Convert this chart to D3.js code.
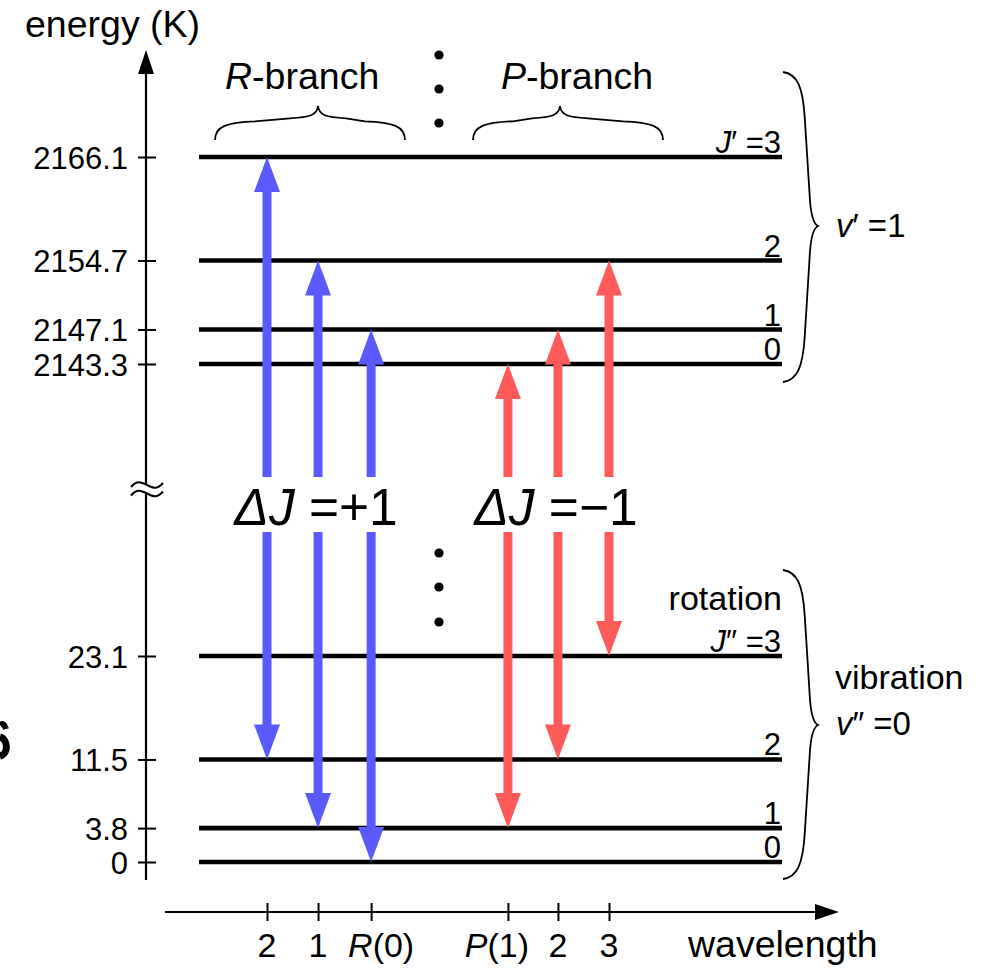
<!DOCTYPE html>
<html><head><meta charset="utf-8">
<script src="https://cdn.jsdelivr.net/npm/d3@7/dist/d3.min.js"></script>
<style>
body{margin:0;background:#fff}
svg{display:block}
text{font-family:"Liberation Sans",Arial,Helvetica,sans-serif;fill:#000}
</style>
</head><body>
<svg id="c" width="990" height="968"></svg>
<script>
// ---------------- data ----------------
const upperJ = [0, 1, 2, 3];
const upperEnergy = [2143.3, 2147.1, 2154.7, 2166.1];   // v'=1 levels (K)
const lowerJ = [0, 1, 2, 3];
const lowerEnergy = [0, 3.8, 11.5, 23.1];               // v''=0 levels (K)
const upperTickLabels = ["2143.3", "2147.1", "2154.7", "2166.1"];
const lowerTickLabels = ["0", "3.8", "11.5", "23.1"];
const transitionBranch = ["R", "R", "R", "P", "P", "P"];
const transitionLowerJ = [2, 1, 0, 1, 2, 3];
const transitionUpperJ = [3, 2, 1, 0, 1, 2];
const transitionPos = [0, 1, 2.04, 4.72, 5.7, 6.7];     // relative wavelength position
const transitionLabels = ["2", "1", "R(0)", "P(1)", "2", "3"];
const branchColor = {R: "#5a5aff", P: "#ff5a5a"};

// ---------------- scales ----------------
const svg = d3.select("#c");
const x = d3.scaleLinear().domain([0, 6.7]).range([267, 609]);
const yU = d3.scaleLinear().domain([2143.3, 2166.1]).range([364, 157]);
const yL = d3.scaleLinear().domain([0, 23.1]).range([862, 656]);

const axisX = 146, lineX0 = 199, lineX1 = 782;

// fragment of a neighbouring glyph at the left edge (drawn as shape)
svg.append("path").attr("d", "M0,725 Q4,722 6,729").attr("fill", "none")
  .attr("stroke", "#000").attr("stroke-width", 6);
svg.append("path").attr("d", "M0,737 C8,739 9,754 0,756").attr("fill", "none")
  .attr("stroke", "#000").attr("stroke-width", 7);

// ---------------- y axis ----------------
svg.append("line").attr("x1", axisX).attr("x2", axisX).attr("y1", 68).attr("y2", 880)
  .attr("stroke", "#000").attr("stroke-width", 2.2);
svg.append("path").attr("d", `M${axisX},50 L${axisX-8},74 L${axisX+8},74 Z`).attr("fill", "#000");

function styleYAxis(g, labels) {
  g.select(".domain").remove();
  g.selectAll(".tick line").attr("x1", -8).attr("x2", 10).attr("stroke", "#000").attr("stroke-width", 2);
  g.selectAll(".tick text").attr("x", -18).attr("dy", "0.36em")
    .style("font-size", "31px").style("font-family", '"Liberation Sans",Arial,sans-serif')
    .text((d, i) => labels[i]);
}
const gU = svg.append("g").attr("transform", `translate(${axisX},0)`)
  .call(d3.axisLeft(yU).tickValues(upperEnergy));
styleYAxis(gU, upperTickLabels);
const gL = svg.append("g").attr("transform", `translate(${axisX},0)`)
  .call(d3.axisLeft(yL).tickValues(lowerEnergy));
styleYAxis(gL, lowerTickLabels);

// axis break
svg.append("rect").attr("x", 130).attr("y", 485).attr("width", 34).attr("height", 9).attr("fill", "#fff");
[485, 493.5].forEach(yc => {
  svg.append("path")
    .attr("d", `M131,${yc+2} C137,${yc-5} 141,${yc-3} 147,${yc} C153,${yc+3} 157,${yc+5} 163,${yc-2}`)
    .attr("fill", "none").attr("stroke", "#000").attr("stroke-width", 2);
});

svg.append("text").attr("x", 25).attr("y", 37).style("font-size", "37.5px").text("energy (K)");

// ---------------- x axis ----------------
svg.append("line").attr("x1", 165).attr("x2", 822).attr("y1", 912).attr("y2", 912)
  .attr("stroke", "#000").attr("stroke-width", 2.2);
svg.append("path").attr("d", "M839,912 L815,904 L815,920 Z").attr("fill", "#000");
const gX = svg.append("g").attr("transform", "translate(0,912)")
  .call(d3.axisBottom(x).tickValues(transitionPos).tickFormat(""));
gX.select(".domain").remove();
gX.selectAll(".tick line").attr("y1", -9).attr("y2", 9).attr("stroke", "#000").attr("stroke-width", 2);
gX.selectAll(".tick text").remove();

transitionPos.forEach((p, i) => {
  const lab = transitionLabels[i];
  const t = svg.append("text").attr("y", 957).style("font-size", "34px").attr("text-anchor", "middle");
  const m = lab.match(/^([RP])(\(.*\))$/);
  if (m) {
    t.attr("x", x(p) + (m[1] === "R" ? 10 : -11));
    t.append("tspan").style("font-style", "italic").text(m[1]);
    t.append("tspan").text(m[2]);
  } else {
    t.attr("x", x(p)).text(lab);
  }
});
svg.append("text").attr("x", 688).attr("y", 957).style("font-size", "37.5px").text("wavelength");

// ---------------- energy levels ----------------
const levels = upperJ.map((j, i) => ({j, y: yU(upperEnergy[i]), upper: true}))
  .concat(lowerJ.map((j, i) => ({j, y: yL(lowerEnergy[i]), upper: false})));
svg.selectAll("line.level").data(levels).join("line").attr("class", "level")
  .attr("x1", lineX0).attr("x2", lineX1).attr("y1", d => d.y).attr("y2", d => d.y)
  .attr("stroke", "#000").attr("stroke-width", 4.6);

levels.forEach(d => {
  const t = svg.append("text").attr("x", lineX1 - 1).attr("y", d.y - 4)
    .attr("text-anchor", "end").style("font-size", "31px");
  if (d.j === 3) {
    t.append("tspan").style("font-style", "italic").text("J");
    t.append("tspan").text(d.upper ? "\u2032 =3" : "\u2033 =3");
  } else {
    t.text(String(d.j));
  }
});
svg.append("text").attr("x", lineX1).attr("y", 610).attr("text-anchor", "end")
  .style("font-size", "34px").text("rotation");

// ---------------- transitions ----------------
const gapTop = 477, gapBot = 532, headL = 35, headW = 13, shaftW = 9;
const trans = transitionPos.map((p, i) => ({
  x: x(p),
  yTop: yU(upperEnergy[upperJ.indexOf(transitionUpperJ[i])]),
  yBot: yL(lowerEnergy[lowerJ.indexOf(transitionLowerJ[i])]),
  color: branchColor[transitionBranch[i]]
}));
const gA = svg.append("g");
trans.forEach(t => {
  gA.append("rect").attr("x", t.x - shaftW/2).attr("y", t.yTop + headL - 2)
    .attr("width", shaftW).attr("height", gapTop - (t.yTop + headL - 2)).attr("fill", t.color);
  gA.append("rect").attr("x", t.x - shaftW/2).attr("y", gapBot)
    .attr("width", shaftW).attr("height", (t.yBot - headL + 2) - gapBot).attr("fill", t.color);
  gA.append("path").attr("d", `M${t.x},${t.yTop} L${t.x-headW},${t.yTop+headL} L${t.x+headW},${t.yTop+headL} Z`).attr("fill", t.color);
  gA.append("path").attr("d", `M${t.x},${t.yBot} L${t.x-headW},${t.yBot-headL} L${t.x+headW},${t.yBot-headL} Z`).attr("fill", t.color);
});

// ΔJ labels centred on middle arrow of each branch
[[1, "=+1"], [4, "=\u22121"]].forEach(([i, s]) => {
  const t = svg.append("text").attr("x", trans[i].x - 2).attr("y", 525)
    .attr("text-anchor", "middle").style("font-size", "51.5px");
  t.append("tspan").style("font-style", "italic").text("\u0394J");
  t.append("tspan").text(" " + s);
});

// ---------------- dots ----------------
[55, 89, 123, 553, 587, 622].forEach(cy => {
  svg.append("circle").attr("cx", 439).attr("cy", cy).attr("r", 4.6).attr("fill", "#000");
});

// ---------------- braces ----------------
function hBrace(x0, x1, xm, yEnd, yPeak) {
  const h = yEnd - yPeak, ym = yEnd - h * 0.58;
  return `M${x0},${yEnd} C${x0},${ym+6} ${x0+12},${ym+2} ${x0+40},${ym+1}
          L${xm-28},${ym-2} C${xm-8},${ym-3} ${xm-1},${ym-5} ${xm},${yPeak}
          C${xm+1},${ym-5} ${xm+8},${ym-3} ${xm+28},${ym-2}
          L${x1-40},${ym+1} C${x1-12},${ym+2} ${x1},${ym+6} ${x1},${yEnd}`;
}
function vBrace(xEnd, yTop, yBot, xPeak, yPeak) {
  const xm = xEnd + (xPeak - xEnd) * 0.62;
  return `M${xEnd},${yTop} C${xEnd+14},${yTop+2} ${xm-2},${yTop+14} ${xm},${yTop+45}
          L${xm+5},${yPeak-30} C${xm+6},${yPeak-10} ${xm+9},${yPeak-2} ${xPeak},${yPeak}
          C${xm+9},${yPeak+2} ${xm+6},${yPeak+10} ${xm+5},${yPeak+30}
          L${xm},${yBot-45} C${xm-2},${yBot-14} ${xEnd+14},${yBot-2} ${xEnd},${yBot}`;
}
const braceStyle = p => p.attr("fill", "none").attr("stroke", "#000").attr("stroke-width", 1.8);
svg.append("path").attr("d", hBrace(215, 405, 318, 140, 106)).call(braceStyle);
svg.append("path").attr("d", hBrace(473, 663, 560, 140, 106)).call(braceStyle);
svg.append("path").attr("d", vBrace(783, 72, 382, 818, 226)).call(braceStyle);
svg.append("path").attr("d", vBrace(783, 570, 879, 818, 725)).call(braceStyle);

// branch titles
function italicFirst(xp, yp, a, b, size) {
  const t = svg.append("text").attr("x", xp).attr("y", yp).style("font-size", size);
  t.append("tspan").style("font-style", "italic").text(a);
  t.append("tspan").text(b);
}
italicFirst(225, 89, "R", "-branch", "37.5px");
italicFirst(501, 89, "P", "-branch", "37.5px");
italicFirst(836, 237, "v", "\u2032 =1", "33px");
svg.append("text").attr("x", 835).attr("y", 689).style("font-size", "34px").text("vibration");
italicFirst(836, 735, "v", "\u2033 =0", "33px");
</script>
</body></html>
